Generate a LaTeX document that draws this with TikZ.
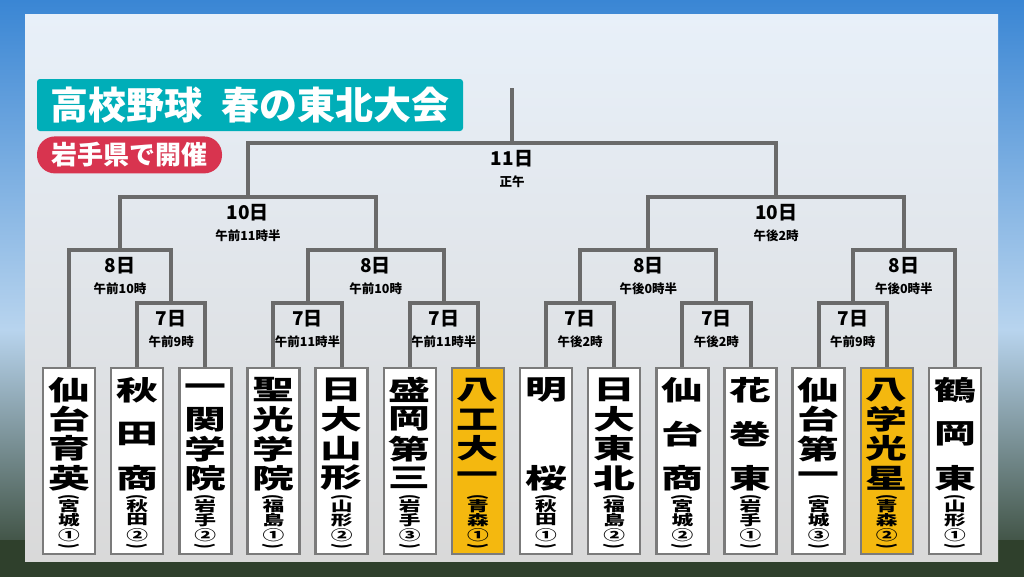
\documentclass[tikz,border=0pt]{standalone}
\usepackage{fontspec}
\setmainfont{Noto Sans CJK JP}
\usepackage{graphicx}
\usepackage{tikz}
\usetikzlibrary{positioning,calc}
\definecolor{bracketgray}{HTML}{6A6A6A}
\definecolor{boxgray}{HTML}{7B7B7B}
\definecolor{titleteal}{HTML}{00AEB8}
\definecolor{subred}{HTML}{D8344F}
\definecolor{hilite}{HTML}{F4B80F}
\definecolor{skyblue}{HTML}{3A86D4}
\definecolor{skylight}{HTML}{B8D4EE}
\definecolor{haze}{HTML}{9AA7A8}
\definecolor{ground}{HTML}{2F402C}
\definecolor{paneltop}{HTML}{E8F0F9}
\definecolor{panelmid}{HTML}{E4ECF4}
\definecolor{panelbot}{HTML}{D9D9D9}
\newcommand{\vopen}{\rotatebox{-90}{\scalebox{1}[1.45]{(}}}
\newcommand{\vclose}{\rotatebox{-90}{\scalebox{1}[1.45]{)}}}
\tikzset{
  bracket/.style={draw=bracketgray,line width=4pt},
  teambox/.style={draw=boxgray,line width=2.5pt,minimum width=52pt,
    minimum height=186pt,inner sep=0pt},
  namech/.style={font=\fontsize{27}{27}\selectfont\bfseries,xscale=1.55,inner sep=0pt},
  prefch/.style={font=\fontsize{14}{14}\selectfont\bfseries,xscale=1.55,inner sep=0pt},
  parch/.style={font=\fontsize{14}{14}\selectfont\bfseries,inner sep=0pt},
  daytxt/.style={font=\fontsize{19}{19}\selectfont\bfseries,inner sep=0pt},
  timetxt/.style={font=\fontsize{12.5}{12.5}\selectfont\bfseries,inner sep=0pt},
  titlebox/.style={fill=titleteal,rounded corners=3pt,text=white,
    font=\fontsize{38}{38}\selectfont\bfseries,minimum width=426pt,
    minimum height=52pt,inner sep=0pt},
  subbox/.style={fill=subred,rounded corners=18pt,text=white,
    font=\fontsize{26}{26}\selectfont\bfseries,minimum width=185pt,
    minimum height=37pt,inner sep=0pt}
}
\begin{document}
\begin{tikzpicture}[x=1pt,y=-1pt]
  \useasboundingbox (0,0) rectangle (1024,576);
  % background
  \shade[top color=skyblue,bottom color=skylight] (0,0) rectangle (1024,330);
  \shade[top color=skylight,middle color=haze,bottom color=ground] (0,330) rectangle (1024,576);
  \fill[ground] (0,540) rectangle (1024,576);
  \shade[top color=paneltop,middle color=panelmid,bottom color=panelbot]
    (25,14) rectangle (998,561);
  % headings
  \node[titlebox] (title) at (250,105) {高校野球\hspace{0.5em}春の東北大会};
  \node[subbox,below right=5pt and 0pt of title.south west] (venue) {岩手県で開催};
  % teams
  \foreach \i/\nm/\n/\pa/\pb/\num/\col in {
    1/{仙,台,育,英}/4/宮/城/①/white,
    2/{秋,田,商}/3/秋/田/②/white,
    3/{一,関,学,院}/4/岩/手/②/white,
    4/{聖,光,学,院}/4/福/島/①/white,
    5/{日,大,山,形}/4/山/形/②/white,
    6/{盛,岡,第,三}/4/岩/手/③/white,
    7/{八,工,大,一}/4/青/森/①/hilite,
    8/{明,桜}/2/秋/田/①/white,
    9/{日,大,東,北}/4/福/島/②/white,
    10/{仙,台,商}/3/宮/城/②/white,
    11/{花,巻,東}/3/岩/手/①/white,
    12/{仙,台,第,一}/4/宮/城/③/white,
    13/{八,学,光,星}/4/青/森/②/hilite,
    14/{鶴,岡,東}/3/山/形/①/white} {
    \pgfmathsetmacro\cx{69+(\i-1)*68.15}
    \node[teambox,fill=\col] (t\i) at (\cx,461) {};
    \foreach \ch [count=\k] in \nm
      \node[namech] (t\i-n\k) at (\cx,{390+(\k-1)*88/(\n-1)}) {\ch};
    \node[parch] (t\i-po) at (\cx,497) {\vopen};
    \node[prefch] (t\i-pa) at (\cx,506) {\pa};
    \node[prefch] (t\i-pb) at (\cx,520) {\pb};
    \node[prefch] (t\i-no) at (\cx,535) {\num};
    \node[parch] (t\i-pc) at (\cx,546) {\vclose};
  }
  % match points and dates
  \foreach \m/\x/\y/\d/\t in {
    m7a/171.2/303/7日/午前9時, m8a/120.1/250/8日/午前10時,
    m7b/307.5/303/7日/午前11時半, m7c/443.8/303/7日/午前11時半,
    m8b/375.7/250/8日/午前10時, m10a/247.9/197/10日/午前11時半,
    m7d/580.1/303/7日/午後2時, m7e/716.4/303/7日/午後2時,
    m8c/648.3/250/8日/午後0時半, m7f/852.7/303/7日/午前9時,
    m8d/903.8/250/8日/午後0時半, m10b/776.1/197/10日/午後2時,
    m11/512/143/11日/正午} {
    \coordinate (\m) at (\x,\y);
    \node[daytxt] (\m-d) at (\x,\y+16) {\d};
    \node[timetxt] (\m-t) at (\x,\y+39) {\t};
  }
  \coordinate (champ) at (512,88);
  % bracket
  \draw[bracket] (t2.north) |- (m7a) -| (t3.north);
  \draw[bracket] (t1.north) |- (m8a) -| (m7a);
  \draw[bracket] (t4.north) |- (m7b) -| (t5.north);
  \draw[bracket] (t6.north) |- (m7c) -| (t7.north);
  \draw[bracket] (m7b) |- (m8b) -| (m7c);
  \draw[bracket] (m8a) |- (m10a) -| (m8b);
  \draw[bracket] (t8.north) |- (m7d) -| (t9.north);
  \draw[bracket] (t10.north) |- (m7e) -| (t11.north);
  \draw[bracket] (m7d) |- (m8c) -| (m7e);
  \draw[bracket] (t12.north) |- (m7f) -| (t13.north);
  \draw[bracket] (m7f) |- (m8d) -| (t14.north);
  \draw[bracket] (m8c) |- (m10b) -| (m8d);
  \draw[bracket] (m10a) |- (m11) -| (m10b);
  \draw[bracket] (m11) -- (champ);
\end{tikzpicture}
\end{document}
